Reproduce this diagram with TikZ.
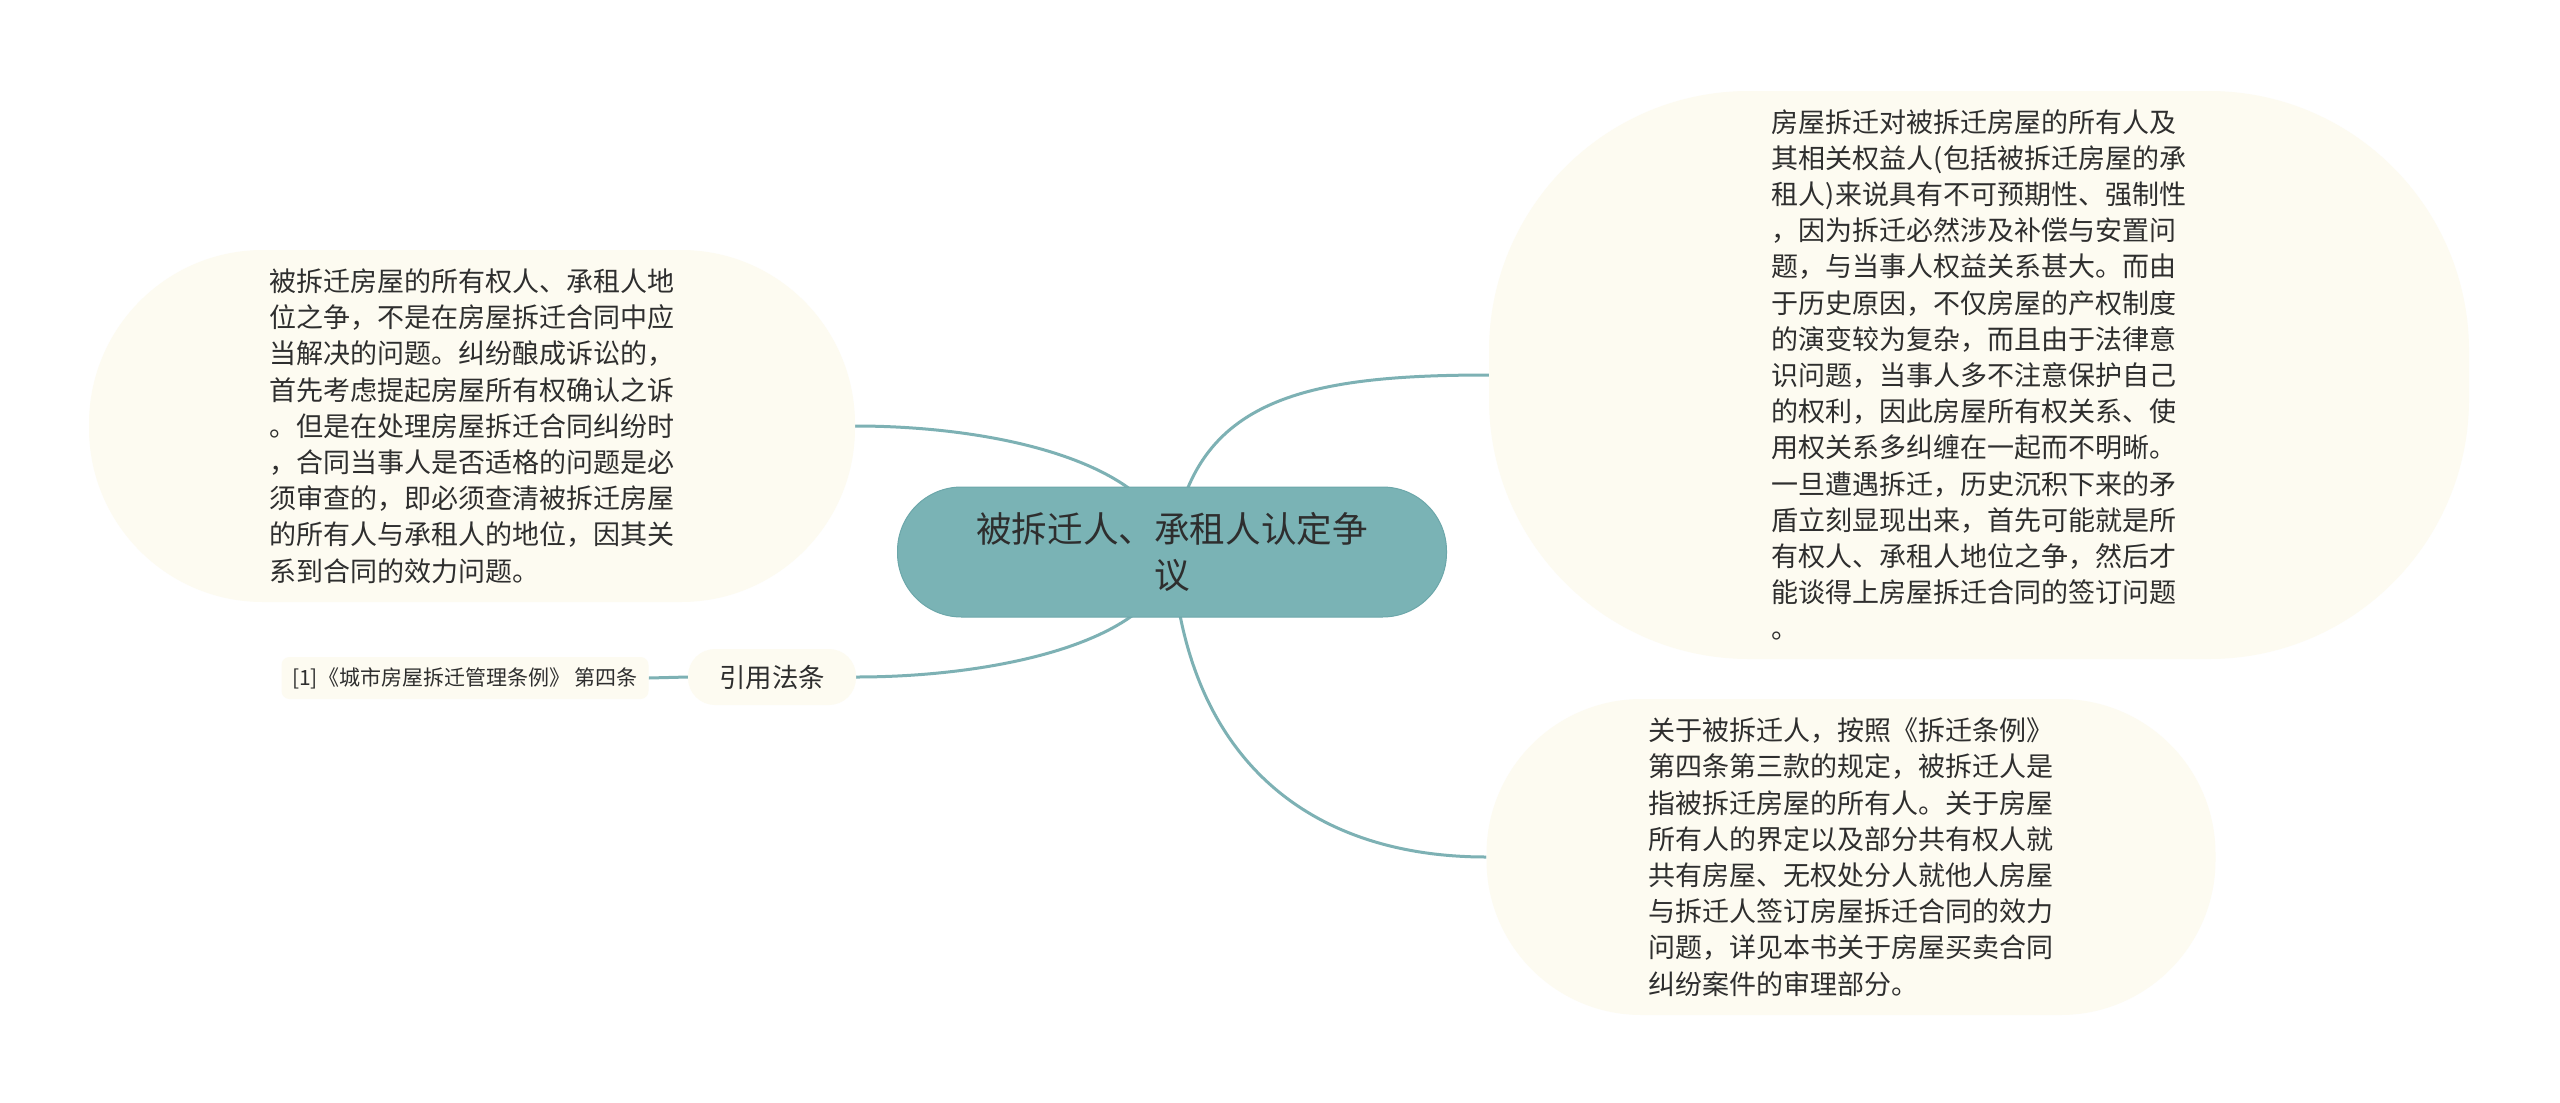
\documentclass[tikz,border=0pt]{standalone}
\usepackage{fontspec}
\newfontfamily\cjk{Noto Sans CJK SC}
\usetikzlibrary{backgrounds}
\definecolor{hubfill}{HTML}{7AB3B5}
\definecolor{hubline}{HTML}{6CA7AA}
\definecolor{notefill}{HTML}{FDFBF1}
\definecolor{linkcol}{HTML}{7DB1B4}
\definecolor{txtgray}{HTML}{2E2E2E}
\begin{document}
\begin{tikzpicture}
[x=1pt,y=-1pt,every node/.style={font=\cjk,text=txtgray,inner sep=0pt},
 hub/.style={fill=hubfill,draw=hubline,line width=1pt,rounded corners=64pt,align=center,
   minimum width=549pt,minimum height=130pt,font=\cjk\fontsize{35.6}{46}\selectfont},
 note/.style={fill=notefill,align=left,font=\cjk\fontsize{27}{36.2}\selectfont},
 law/.style={fill=notefill,rounded corners=27pt,minimum width=168pt,minimum height=56pt,
   font=\cjk\fontsize{26.4}{30}\selectfont},
 cite/.style={fill=notefill,rounded corners=8pt,minimum width=367pt,minimum height=42pt,
   font=\cjk\fontsize{21}{25}\selectfont},
 link/.style={draw=linkcol,line width=3pt}]
\useasboundingbox (0,0) rectangle (2560,1103);
\node[hub] (hub) at (1172,552) {被拆迁人、承租人认定争\\议};
\node[note,rounded corners=174pt,minimum width=766pt,minimum height=352pt] (lnote) at (472,426)
 {被拆迁房屋的所有权人、承租人地\\
 位之争，不是在房屋拆迁合同中应\\
 当解决的问题。纠纷酿成诉讼的，\\
 首先考虑提起房屋所有权确认之诉\\
 。但是在处理房屋拆迁合同纠纷时\\
 ，合同当事人是否适格的问题是必\\
 须审查的，即必须查清被拆迁房屋\\
 的所有人与承租人的地位，因其关\\
 系到合同的效力问题。};
\node[law] (law) at (772,677) {引用法条};
\node[cite] (cite) at (465,678) {[1]《城市房屋拆迁管理条例》 第四条};
\node[note,rounded corners=260pt,minimum width=980pt,minimum height=568pt] (rnote) at (1979,375)
 {房屋拆迁对被拆迁房屋的所有人及\\
 其相关权益人(包括被拆迁房屋的承\\
 租人)来说具有不可预期性、强制性\\
 ，因为拆迁必然涉及补偿与安置问\\
 题，与当事人权益关系甚大。而由\\
 于历史原因，不仅房屋的产权制度\\
 的演变较为复杂，而且由于法律意\\
 识问题，当事人多不注意保护自己\\
 的权利，因此房屋所有权关系、使\\
 用权关系多纠缠在一起而不明晰。\\
 一旦遭遇拆迁，历史沉积下来的矛\\
 盾立刻显现出来，首先可能就是所\\
 有权人、承租人地位之争，然后才\\
 能谈得上房屋拆迁合同的签订问题\\
 。};
\node[note,rounded corners=155pt,minimum width=729pt,minimum height=316pt] (bnote) at (1851,857)
 {关于被拆迁人，按照《拆迁条例》\\
 第四条第三款的规定，被拆迁人是\\
 指被拆迁房屋的所有人。关于房屋\\
 所有人的界定以及部分共有权人就\\
 共有房屋、无权处分人就他人房屋\\
 与拆迁人签订房屋拆迁合同的效力\\
 问题，详见本书关于房屋买卖合同\\
 纠纷案件的审理部分。};
\begin{scope}[on background layer]
\fill[white] (0,0) rectangle (2560,1103);
\draw[link] (hub.center) .. controls (1160,464) and (1000,426) .. (lnote.east);
\draw[link] (hub.center) .. controls (1168,640) and (1000,677) .. (law.east);
\draw[link] (hub.center) .. controls (1190,400) and (1300,375) .. (rnote.west);
\draw[link] (hub.center) .. controls (1185,760) and (1310,857) .. (bnote.west);
\draw[link] (law.west) -- (cite.east);
\end{scope}
\end{tikzpicture}
\end{document}
